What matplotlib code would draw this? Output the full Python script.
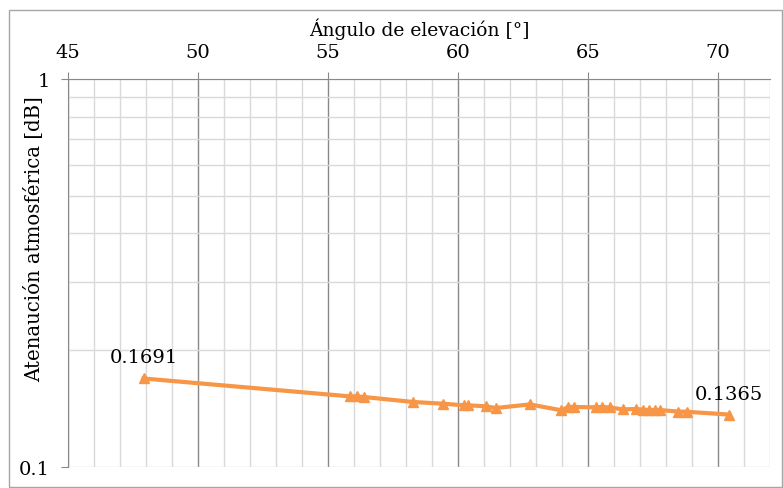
import matplotlib.pyplot as plt
from matplotlib.patches import Rectangle
from matplotlib.ticker import FixedLocator, NullFormatter

# elevation angle [deg] and atmospheric attenuation [dB]
angulo = [47.91, 55.83, 56.11, 56.38, 58.28, 59.42, 60.24, 60.40, 61.07, 61.45,
          62.77, 63.98, 64.23, 64.46, 65.32, 65.54, 65.83, 66.34, 66.85, 67.11,
          67.34, 67.58, 67.78, 68.45, 68.80, 70.43]
atenuacion = [0.1691, 0.1521, 0.1520, 0.1515, 0.1471, 0.1456, 0.1442, 0.1442, 0.1434, 0.1419,
              0.1450, 0.1400, 0.1428, 0.1428, 0.1425, 0.1428, 0.1424, 0.1408, 0.1411, 0.1405,
              0.1403, 0.1403, 0.1402, 0.1390, 0.1388, 0.1365]

x_major = [45, 50, 55, 60, 65, 70]
y_labels = [0.1, 1]

plt.rcParams['font.family'] = ['DejaVu Serif']

fig = plt.figure(figsize=(7.83, 4.89), dpi=100)
ax = fig.add_axes([0.0868, 0.0429, 0.8966, 0.7935])

orange = '#F79646'
ax.plot(angulo, atenuacion, color=orange, lw=3, marker='^', ms=7.5, zorder=3)

ax.set_yscale('log')
ax.set_ylim(0.1, 1)
ax.set_xlim(45, 72)

ax.xaxis.tick_top()
ax.xaxis.set_label_position('top')
ax.set_xticks(x_major)
ax.xaxis.set_minor_locator(FixedLocator(range(45, 73)))
ax.set_yticks(y_labels)
ax.set_yticklabels(['0.1', '1'])
ax.yaxis.set_minor_formatter(NullFormatter())

ax.grid(True, which='minor', color='#d9d9d9', lw=1)
ax.grid(True, which='major', axis='x', color='#888888', lw=1)
ax.grid(True, which='major', axis='y', color='#d9d9d9', lw=1)
ax.tick_params(which='minor', length=0)
ax.tick_params(which='major', length=5, color='#888888', labelsize=14)
ax.tick_params(axis='x', pad=8)
ax.tick_params(axis='y', pad=8)

for side in ['right', 'bottom']:
    ax.spines[side].set_visible(False)
for side in ['top', 'left']:
    ax.spines[side].set_color('#888888')

ax.set_xlabel('Ángulo de elevación [°]', fontsize=13.5, labelpad=6)
ax.set_ylabel('Atenaución atmosférica [dB]', fontsize=14.2)
ax.yaxis.set_label_coords(-0.034, 0.59)

ax.annotate(f'{atenuacion[0]:.4f}', (angulo[0], atenuacion[0]), xytext=(-24.5, 12),
            textcoords='offset points', fontsize=14)
ax.annotate(f'{atenuacion[-1]:.4f}', (angulo[-1], atenuacion[-1]), xytext=(-25, 11),
            textcoords='offset points', fontsize=14)

# chart frame
fig.patches.append(Rectangle((9 / 783, 0.002), 773 / 783, 1 - 11 / 489 - 0.002,
                             transform=fig.transFigure, fill=False,
                             edgecolor='#a6a6a6', lw=1))

fig.savefig('out.png', dpi=100)
